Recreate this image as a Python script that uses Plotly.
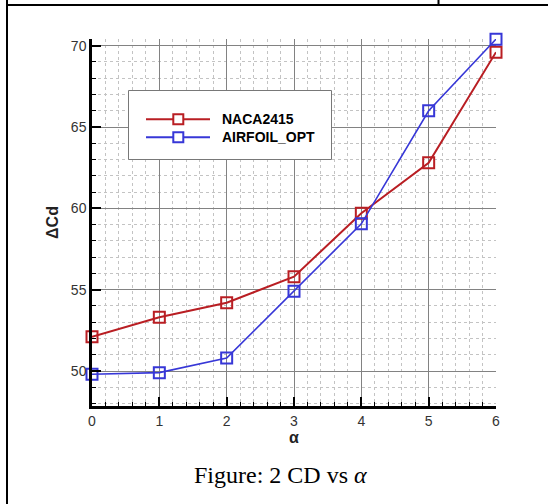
import plotly.graph_objects as go

alpha = [0, 1, 2, 3, 4, 5, 6]
naca2415 = [52.1, 53.3, 54.2, 55.8, 59.7, 62.8, 69.6]
airfoil_opt = [49.8, 49.9, 50.8, 54.9, 59.05, 66.0, 70.4]
series_names = ["NACA2415", "AIRFOIL_OPT"]
x_ticks = [0, 1, 2, 3, 4, 5, 6]
y_ticks = [50, 55, 60, 65, 70]

RED = "rgb(185,30,35)"
BLUE = "rgb(55,55,215)"

W, H = 548, 504
L, R, T, B = 92, 496, 39, 406

def px(x):
    return (x - L) / (R - L)

def py(y):
    return (B - y) / (B - T)

fig = go.Figure()
fig.add_trace(go.Scatter(x=alpha, y=naca2415, mode="lines+markers", name=series_names[0],
                         line=dict(color=RED, width=2),
                         marker=dict(symbol="square-open", size=11, color=RED, line=dict(width=2)),
                         showlegend=False, cliponaxis=False))
fig.add_trace(go.Scatter(x=alpha, y=airfoil_opt, mode="lines+markers", name=series_names[1],
                         line=dict(color=BLUE, width=1.6),
                         marker=dict(symbol="square-open", size=11, color=BLUE, line=dict(width=2)),
                         showlegend=False, cliponaxis=False))

axis_common = dict(
    showline=True, linecolor="black", linewidth=2.5,
    ticks="inside", ticklen=9, tickwidth=2, tickcolor="black",
    showgrid=True, gridcolor="rgb(130,130,130)", gridwidth=1,
    zeroline=False,
    tickfont=dict(family="Liberation Sans, Arial", size=14, color="#333"),
    mirror=False,
)

fig.update_xaxes(range=[0, 6], tickvals=x_ticks, **axis_common,
                 minor=dict(dtick=0.2, ticks="inside", ticklen=4, tickwidth=1, tickcolor="black",
                            showgrid=True, gridcolor="rgb(195,195,195)", griddash="dot", gridwidth=1),
                 title=dict(text="<b>α</b>", font=dict(family="Liberation Sans, Arial", size=16, color="#222"), standoff=2))
fig.update_yaxes(range=[47.85, 70.41], tickvals=y_ticks, **axis_common,
                 minor=dict(dtick=1, ticks="inside", ticklen=4, tickwidth=1, tickcolor="black",
                            showgrid=True, gridcolor="rgb(195,195,195)", griddash="dot", gridwidth=1),
                 title=dict(text="<b>ΔCd</b>", font=dict(family="Liberation Sans, Arial", size=16, color="#222"), standoff=9))

shapes = []
annotations = []
# legend box
shapes.append(dict(type="rect", xref="paper", yref="paper", x0=px(128.5), x1=px(331.5), y0=py(90.5), y1=py(159.5),
                   line=dict(color="rgb(120,120,120)", width=1), fillcolor="white", layer="above"))
for name, color, yy in [(series_names[0], RED, 119.3), (series_names[1], BLUE, 137.3)]:
    shapes.append(dict(type="line", xref="paper", yref="paper", x0=px(146), x1=px(210), y0=py(yy), y1=py(yy),
                       line=dict(color=color, width=2), layer="above"))
    shapes.append(dict(type="rect", xref="paper", yref="paper", xsizemode="pixel", ysizemode="pixel",
                       xanchor=px(178.3), yanchor=py(yy), x0=-5, x1=5, y0=-5, y1=5,
                       line=dict(color=color, width=2), fillcolor="white", layer="above"))
    annotations.append(dict(text="<b>" + name + "</b>", xref="paper", yref="paper", x=px(220), y=py(yy),
                            xanchor="left", yanchor="middle", showarrow=False,
                            font=dict(family="Liberation Sans, Arial", size=14, color="black")))

# document frame lines
frame = dict(color="black", width=2)
shapes.append(dict(type="line", xref="paper", yref="paper", x0=px(6), x1=px(548), y0=py(5), y1=py(5), line=frame))
shapes.append(dict(type="line", xref="paper", yref="paper", x0=px(7), x1=px(7), y0=py(0), y1=py(504), line=frame))
shapes.append(dict(type="line", xref="paper", yref="paper", x0=px(438.5), x1=px(438.5), y0=py(0), y1=py(5), line=frame))

annotations.append(dict(text="Figure: 2 CD vs <i>α</i>", xref="paper", yref="paper", x=px(280), y=py(475),
                        xanchor="center", yanchor="middle", showarrow=False,
                        font=dict(family="Liberation Serif, Times New Roman", size=24, color="black")))

fig.update_layout(width=W, height=H, margin=dict(l=L, r=W - R, t=T, b=H - B),
                  paper_bgcolor="white", plot_bgcolor="white",
                  shapes=shapes, annotations=annotations, showlegend=False)

fig.write_html("out.html", config={"displayModeBar": False},
               post_script="document.body.style.margin='0';document.body.style.overflow='hidden';")
